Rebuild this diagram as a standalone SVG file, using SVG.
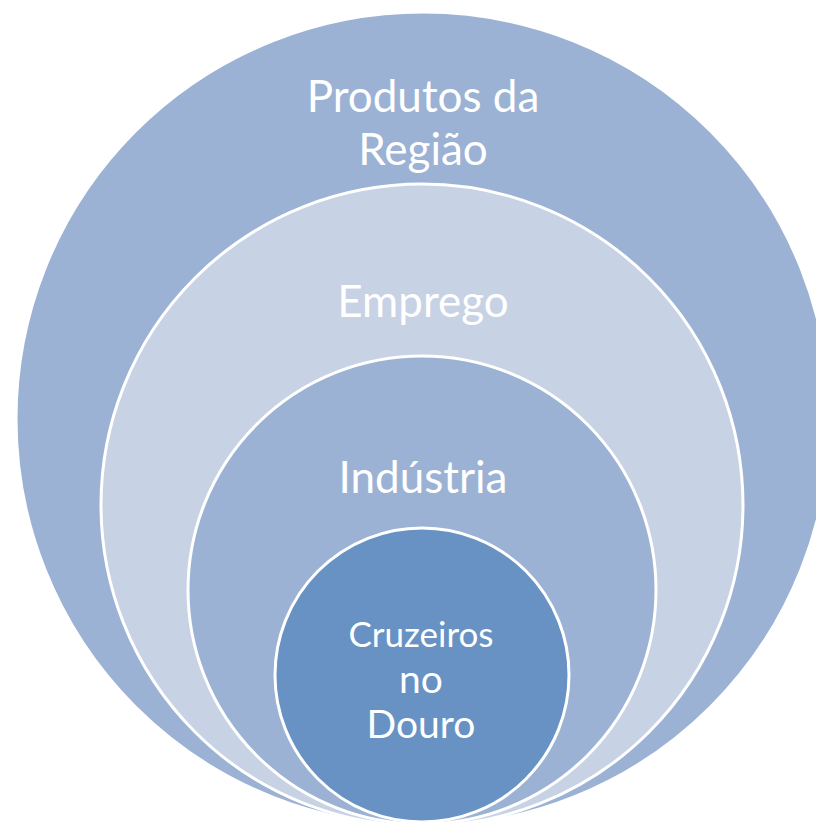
<svg xmlns="http://www.w3.org/2000/svg" width="816" height="826" viewBox="0 0 816 826">
<style>
.c{stroke:#FFFFFF;stroke-width:3}
.t{font-family:Lato,"Open Sans","Liberation Sans",sans-serif;fill:#FFFFFF;text-anchor:middle}
.big{font-size:44px}
.mid{font-size:35px}
.small{font-size:39px}
</style>
<rect width="816" height="826" fill="#FFFFFF"/>
<g id="node-produtos">
<circle class="c" cx="423" cy="419" r="407" fill="#9BB2D4"/>
<text class="t big" x="423" y="112">Produtos da</text>
<text class="t big" x="423" y="165">Região</text>
</g>
<g id="node-emprego">
<circle class="c" cx="422" cy="505" r="321" fill="#C7D2E4"/>
<text class="t big" x="423" y="317">Emprego</text>
</g>
<g id="node-industria">
<circle class="c" cx="422" cy="590" r="234" fill="#9BB2D4"/>
<text class="t big" x="423" y="493">Indústria</text>
</g>
<g id="node-cruzeiros">
<circle class="c" cx="422" cy="675" r="147" fill="#6792C3"/>
<text class="t mid" x="421" y="647">Cruzeiros</text>
<text class="t small" x="421" y="693">no</text>
<text class="t small" x="421" y="738">Douro</text>
</g>
<g id="connectors"/>
</svg>
